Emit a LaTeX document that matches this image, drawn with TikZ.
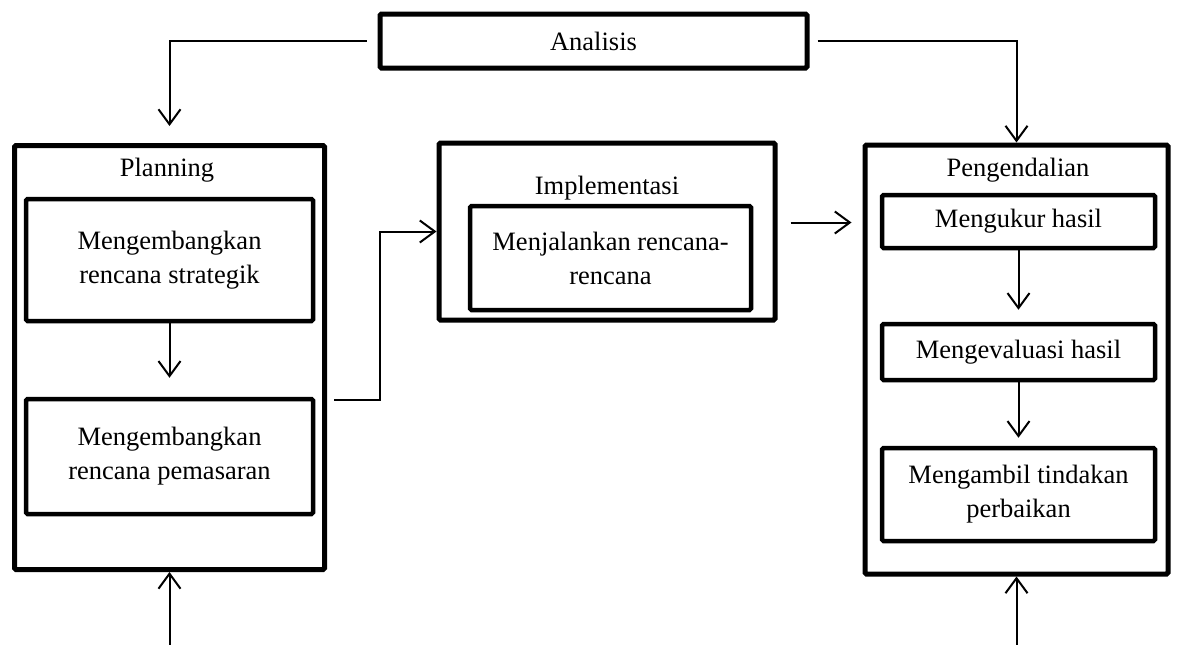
\documentclass[tikz,border=0pt]{standalone}
\usepackage{fontspec}
\setmainfont{Liberation Serif}
\usetikzlibrary{arrows.meta}
\tikzset{
  outerbox/.style={draw, line width=5pt, rounded corners=1.5pt, inner sep=0pt},
  innerbox/.style={draw, line width=4.5pt, rounded corners=1.5pt, align=center, inner sep=0pt},
  conn/.style={line width=2pt, -{Straight Barb[length=15pt,width=22pt,line width=2pt]}},
  plain/.style={line width=2pt}
}
\begin{document}
\begin{tikzpicture}[x=1pt, y=-1pt, font=\fontsize{26.5}{34}\selectfont]
\useasboundingbox (0,0) rectangle (1181,645);

% Outer boxes
\node[outerbox, minimum width=427pt, minimum height=54pt] (analisis) at (593.5,41) {Analisis};
\node[outerbox, minimum width=310pt, minimum height=424pt] (planning) at (169.5,357.5) {};
\node[outerbox, minimum width=336pt, minimum height=177pt] (implementasi) at (607,231.5) {};
\node[outerbox, minimum width=303pt, minimum height=429pt] (pengendalian) at (1016.5,359.5) {};

% Titles
\node (tplanning) at (167,170) {Planning};
\node (timplementasi) at (607,188) {Implementasi};
\node (tpengendalian) at (1018,170) {Pengendalian};

% Inner boxes
\node[innerbox, minimum width=287pt, minimum height=122pt] (strategik) at (169.5,260) {Mengembangkan\\rencana strategik};
\node[innerbox, minimum width=287pt, minimum height=115pt] (pemasaran) at (169.5,456.5) {Mengembangkan\\rencana pemasaran};
\node[innerbox, minimum width=281pt, minimum height=104pt] (jalankan) at (610.5,258) {Menjalankan rencana-\\rencana};
\node[innerbox, minimum width=273pt, minimum height=53pt] (ukur) at (1018.5,221.5) {Mengukur hasil};
\node[innerbox, minimum width=273pt, minimum height=56pt] (evaluasi) at (1018.5,352) {Mengevaluasi hasil};
\node[innerbox, minimum width=273pt, minimum height=93pt] (tindakan) at (1018.5,494.5) {Mengambil tindakan\\perbaikan};

% Connectors
\draw[conn, shorten >=17pt] ([xshift=-11pt]analisis.west) -| (planning.north);
\draw[conn] ([xshift=8pt]analisis.east) -| (pengendalian.north);
\draw[conn] ([xshift=7pt,yshift=-42pt]planning.east) -- ++(46,0) |- (implementasi.west);
\draw[conn, shorten >=11pt] ([xshift=13pt,yshift=9pt]implementasi.east) coordinate (s) -- (s -| pengendalian.west);
\draw[conn, shorten >=19pt] (strategik.south) -- (pemasaran.north);
\draw[conn, shorten >=12pt] (ukur.south) -- (evaluasi.north);
\draw[conn, shorten >=8pt] (evaluasi.south) -- (tindakan.north);

% Inputs from below
\coordinate (pinplanning) at ([yshift=-75pt]planning.south);
\coordinate (pinpengendalian) at ([yshift=-72pt]pengendalian.south);
\draw[conn] (pinplanning) -- (planning.south);
\draw[conn] (pinpengendalian) -- (pengendalian.south);
\end{tikzpicture}
\end{document}
